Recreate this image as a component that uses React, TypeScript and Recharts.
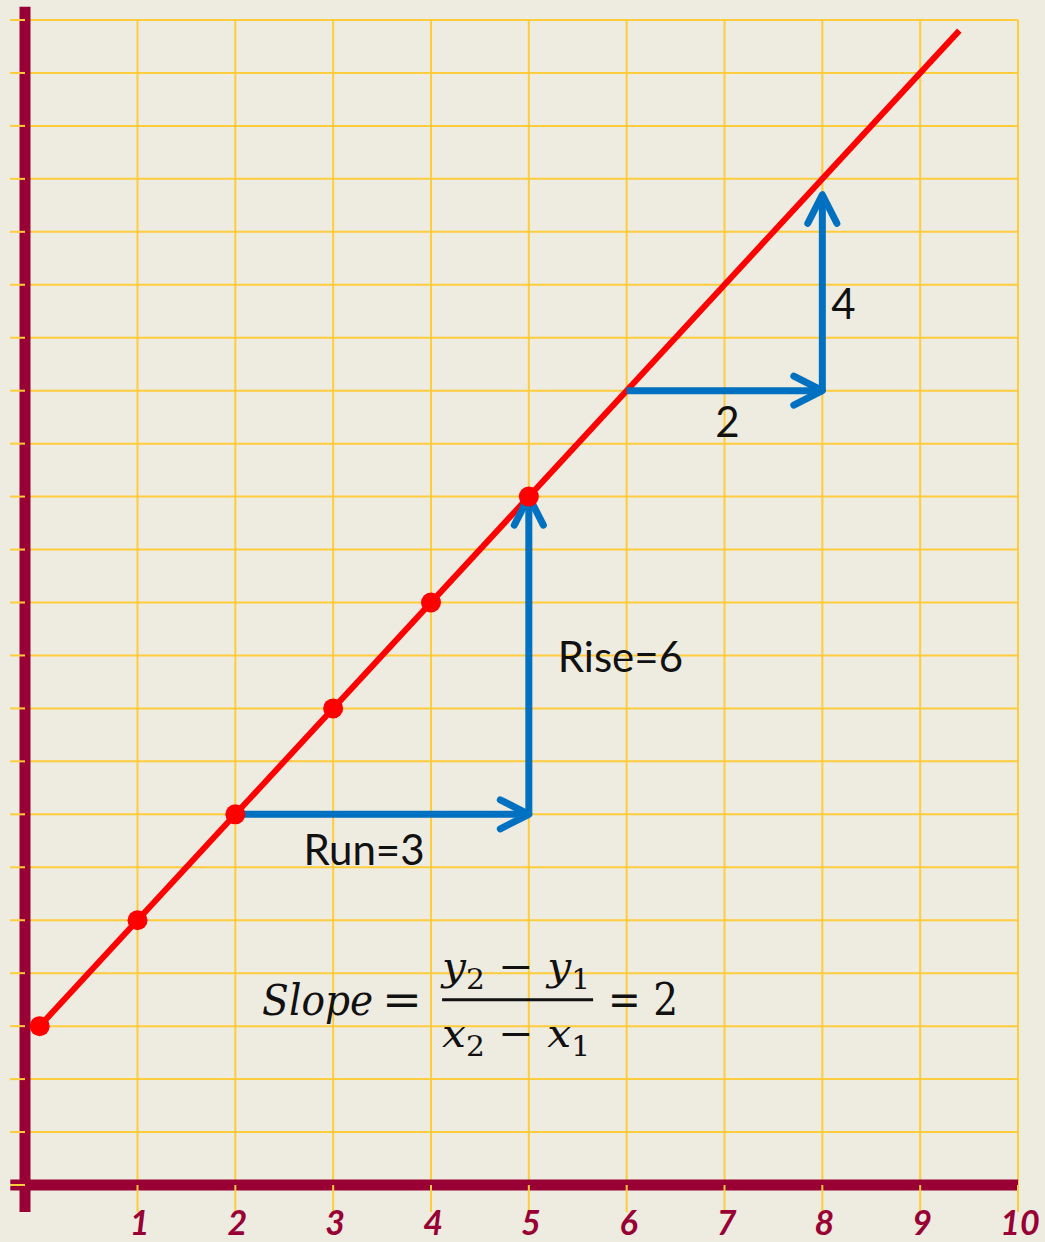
import React from "react";
import {
  ComposedChart,
  CartesianGrid,
  XAxis,
  YAxis,
  Line,
  Scatter,
  ReferenceLine,
  ReferenceDot,
} from "recharts";

// axes / grid
const xTicks = [1, 2, 3, 4, 5, 6, 7, 8, 9, 10];
const yTicks = [0, 1, 2, 3, 4, 5, 6, 7, 8, 9, 10, 11, 12, 13, 14, 15, 16, 17, 18, 19, 20, 21, 22];
const xDomain = [-0.15, 10];
const yDomain = [0, 22];

// the red line y = 2x + 3
const lineX = [0, 9.4];
const lineY = [3, 21.8];
const dotX = [0, 1, 2, 3, 4, 5];
const dotY = [3, 5, 7, 9, 11, 13];

// run / rise arrows
const arrowFromX = [2, 5, 6, 8];
const arrowFromY = [7, 7, 15, 15];
const arrowToX = [5, 5, 8, 8];
const arrowToY = [7, 13, 15, 18.7];
const arrowLabels = ["Run=3", "Rise=6", "2", "4"];

// axis lines (data space, drawn past the plot edges)
const xAxisSpan = [-0.3, 10];
const yAxisSpan = [-0.51, 22.25];

// formula anchor (centre of the fraction bar)
const formulaAt = [4.88, 3.5];

const BG = "#EEEBE0";
const GRID = "#FFCC3C";
const AXIS = "#990033";
const RED = "#FF0000";
const BLUE = "#0070C0";

const lineData = lineX.map((x, i) => ({ x, y: lineY[i] }));
const dotData = dotX.map((x, i) => ({ x, y: dotY[i] }));

// label placement relative to arrow midpoints (px)
const labelStyle = [
  { dx: -18, dy: 51, anchor: "middle" },
  { dx: 29, dy: 17, anchor: "start" },
  { dx: 3, dy: 46, anchor: "middle" },
  { dx: 9, dy: 26, anchor: "start" },
];

const arrowShape = (p: any) => {
  const { x1, y1, x2, y2 } = p;
  const ang = Math.atan2(y2 - y1, x2 - x1);
  const L = 32;
  const a = (27 * Math.PI) / 180;
  const ax = x2 - L * Math.cos(ang - a);
  const ay = y2 - L * Math.sin(ang - a);
  const bx = x2 - L * Math.cos(ang + a);
  const by = y2 - L * Math.sin(ang + a);
  return (
    <g>
      <line x1={x1} y1={y1} x2={x2} y2={y2} stroke={BLUE} strokeWidth={7} />
      <polyline
        points={`${ax},${ay} ${x2},${y2} ${bx},${by}`}
        fill="none"
        stroke={BLUE}
        strokeWidth={7}
        strokeLinecap="round"
        strokeLinejoin="round"
      />
    </g>
  );
};

const XTick = (p: any) => (
  <text
    x={p.x + 2}
    y={p.y + 23}
    textAnchor="middle"
    fontFamily="Lato"
    fontStyle="italic"
    fontWeight={700}
    fontSize={34}
    fill={AXIS}
  >
    {p.payload.value}
  </text>
);

const NoTick = () => <g />;

const mathFont = "'DejaVu Serif', serif";

const Formula = (p: any) => {
  const cx = p.cx;
  const cy = p.cy;
  return (
    <g fill="#111" fontFamily={mathFont}>
      <text
        x={cx - 255}
        y={cy + 15}
        fontSize={42}
        fontStyle="italic"
        textLength={111}
        lengthAdjust="spacingAndGlyphs"
      >
        Slope
      </text>
      <text x={cx - 135} y={cy + 15} fontSize={44} textLength={40} lengthAdjust="spacingAndGlyphs">
        =
      </text>
      <text
        x={cx - 75}
        y={cy - 20}
        fontSize={40}
        textLength={148}
        lengthAdjust="spacingAndGlyphs"
      >
        <tspan fontStyle="italic">y</tspan>
        <tspan fontSize={28} dy={9}>2</tspan>
        <tspan dy={-9}> − </tspan>
        <tspan fontStyle="italic">y</tspan>
        <tspan fontSize={28} dy={9}>1</tspan>
      </text>
      <line x1={cx - 75} y1={cy} x2={cx + 76} y2={cy} stroke="#111" strokeWidth={3} />
      <text
        x={cx - 75}
        y={cy + 47}
        fontSize={40}
        textLength={148}
        lengthAdjust="spacingAndGlyphs"
      >
        <tspan fontStyle="italic">x</tspan>
        <tspan fontSize={28} dy={9}>2</tspan>
        <tspan dy={-9}> − </tspan>
        <tspan fontStyle="italic">x</tspan>
        <tspan fontSize={28} dy={9}>1</tspan>
      </text>
      <text x={cx + 91} y={cy + 15} fontSize={44} textLength={70} lengthAdjust="spacingAndGlyphs">
        = 2
      </text>
    </g>
  );
};

export default function App() {
  return (
    <div
      style={{
        position: "absolute",
        left: 0,
        top: 0,
        width: 1045,
        height: 1242,
        background: BG,
      }}
    >
      <ComposedChart
        width={1045}
        height={1242}
        margin={{ top: 20, right: 27, left: 0, bottom: 0 }}
      >
        <CartesianGrid stroke={GRID} strokeWidth={2} />
        <XAxis
          type="number"
          dataKey="x"
          domain={xDomain}
          ticks={xTicks}
          height={57}
          axisLine={false}
          tickLine={{ stroke: GRID, strokeWidth: 2 }}
          tickSize={27}
          tickMargin={0}
          tick={<XTick />}
          interval={0}
        />
        <YAxis
          type="number"
          dataKey="y"
          domain={yDomain}
          ticks={yTicks}
          width={25}
          axisLine={false}
          tickLine={{ stroke: GRID, strokeWidth: 2 }}
          tickSize={15}
          tick={<NoTick />}
          interval={0}
        />

        <ReferenceLine
          segment={[
            { x: xAxisSpan[0], y: 0 },
            { x: xAxisSpan[1], y: 0 },
          ]}
          stroke={AXIS}
          strokeWidth={11}
          ifOverflow="visible"
        />
        <ReferenceLine
          segment={[
            { x: xDomain[0], y: yAxisSpan[0] },
            { x: xDomain[0], y: yAxisSpan[1] },
          ]}
          stroke={AXIS}
          strokeWidth={11}
          ifOverflow="visible"
        />

        <Line
          data={lineData}
          dataKey="y"
          stroke={RED}
          strokeWidth={6}
          dot={false}
          activeDot={false}
          isAnimationActive={false}
        />
        <Scatter
          data={dotData}
          dataKey="y"
          fill={RED}
          shape={(p: any) => <circle cx={p.cx} cy={p.cy} r={10} fill={RED} />}
          isAnimationActive={false}
        />

        {arrowFromX.map((fx, i) => (
          <ReferenceLine
            key={"a" + i}
            segment={[
              { x: fx, y: arrowFromY[i] },
              { x: arrowToX[i], y: arrowToY[i] },
            ]}
            shape={arrowShape}
          />
        ))}

        {arrowLabels.map((txt, i) => (
          <ReferenceDot
            key={"l" + i}
            x={(arrowFromX[i] + arrowToX[i]) / 2}
            y={(arrowFromY[i] + arrowToY[i]) / 2}
            r={0}
            shape={(p: any) => (
              <text
                x={p.cx + labelStyle[i].dx}
                y={p.cy + labelStyle[i].dy}
                textAnchor={labelStyle[i].anchor}
                fontFamily="Lato"
                fontSize={42}
                fill="#111"
              >
                {txt}
              </text>
            )}
          />
        ))}

        <ReferenceDot x={formulaAt[0]} y={formulaAt[1]} r={0} shape={Formula} />
      </ComposedChart>
    </div>
  );
}
